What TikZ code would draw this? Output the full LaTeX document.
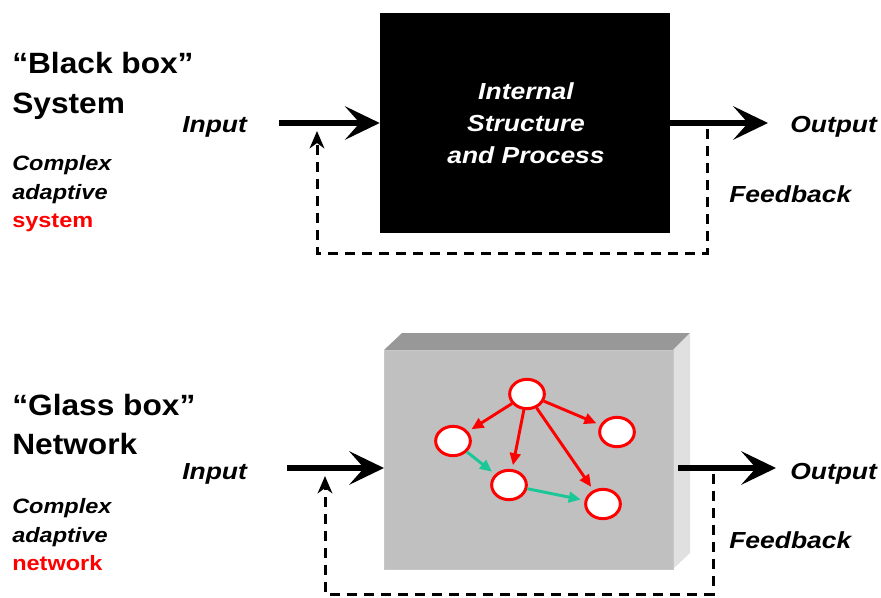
\documentclass[tikz,border=0pt]{standalone}
\usepackage{fontspec}
\setmainfont{Liberation Sans}
\usetikzlibrary{arrows.meta,shapes.geometric}

\definecolor{netgreen}{RGB}{25,200,150}
\definecolor{glassfront}{RGB}{192,192,192}
\definecolor{glasstop}{RGB}{152,152,152}
\definecolor{glassside}{RGB}{224,224,224}

% horizontally widened lettering
\newcommand{\hstretchtext}[2]{\scalebox{#1}[1]{#2}}

\begin{document}
\begin{tikzpicture}[x=0.75pt,y=-0.75pt,
  headtxt/.style={anchor=base west, inner sep=0pt,
    font=\fontsize{22}{26}\selectfont\bfseries},
  labeltxt/.style={anchor=base west, inner sep=0pt,
    font=\fontsize{17.4}{20}\selectfont\bfseries\itshape},
  boxtxt/.style={anchor=base, inner sep=0pt, text=white,
    font=\fontsize{17.4}{20}\selectfont\bfseries\itshape},
  smalltxt/.style={anchor=base west, inner sep=0pt,
    font=\fontsize{15.6}{18}\selectfont\bfseries\itshape},
  redtxt/.style={anchor=base west, inner sep=0pt, text=red,
    font=\fontsize{15.6}{18}\selectfont\bfseries},
  flow/.style={line width=4.5pt,
    -{Stealth[length=26pt,width=25pt,inset=11pt]}},
  feedback/.style={line width=2.25pt, dash pattern=on 7.5pt off 5.25pt,
    -{Stealth[length=13pt,width=11pt,inset=4pt]}},
  netnode/.style={ellipse, draw=red, fill=white, line width=2.25pt,
    minimum width=26pt, minimum height=22pt, inner sep=0pt},
  redlink/.style={draw=red, line width=2.2pt,
    -{Triangle[length=9pt,width=8pt]}, shorten >=3pt},
  greenlink/.style={draw=netgreen, line width=2.2pt,
    -{Triangle[length=9pt,width=8pt]}, shorten >=3pt}
]
\useasboundingbox (0,0) rectangle (881,597);

% ---------------- black box system ----------------
\node[headtxt] (bbtitle) at (12,73) {\hstretchtext{1.08}{“Black box”}};
\node[headtxt] (bbsys) at (12,113) {\hstretchtext{1.08}{System}};
\node[smalltxt] (bbc1) at (12,170) {\hstretchtext{1.13}{Complex}};
\node[smalltxt] (bbc2) at (12,199) {\hstretchtext{1.13}{adaptive}};
\node[redtxt] (bbc3) at (12,227) {\hstretchtext{1.13}{system}};

\node[fill=black, minimum width=217.5pt, minimum height=165pt, inner sep=0pt]
  (bb) at (525,123) {};
\node[boxtxt] (bbt1) at (526,99) {\hstretchtext{1.14}{Internal}};
\node[boxtxt] (bbt2) at (526,131) {\hstretchtext{1.14}{Structure}};
\node[boxtxt] (bbt3) at (526,163) {\hstretchtext{1.14}{and Process}};

\node[labeltxt] (bbin) at (182,132) {\hstretchtext{1.14}{Input}};
\node[labeltxt] (bbout) at (790,132) {\hstretchtext{1.14}{Output}};
\node[labeltxt] (bbfb) at (729,202) {\hstretchtext{1.14}{Feedback}};

\coordinate (bbinstart) at (279,123);
\coordinate (bboutend) at (768,123);
\coordinate (bbfbstart) at (707,129);
\coordinate (bbfbend) at (317,131);

\draw[flow] (bbinstart) -- (bb.west);
\draw[flow] (bb.east) -- (bboutend);
\draw[feedback] (bbfbstart) |- (317,253) -- (bbfbend);

% ---------------- glass box network ----------------
\node[headtxt] (gbtitle) at (12,415) {\hstretchtext{1.08}{“Glass box”}};
\node[headtxt] (gbnet) at (12,454) {\hstretchtext{1.08}{Network}};
\node[smalltxt] (gbc1) at (12,513) {\hstretchtext{1.13}{Complex}};
\node[smalltxt] (gbc2) at (12,542) {\hstretchtext{1.13}{adaptive}};
\node[redtxt] (gbc3) at (12,570) {\hstretchtext{1.13}{network}};

% box faces: top, side, front
\fill[glasstop] (384,350) -- (402,333) -- (690,333) -- (673,350) -- cycle;
\fill[glassside] (673,350) -- (690,333) -- (690,553) -- (673,569) -- cycle;
\node[fill=glassfront, draw=black!22, line width=0.5pt,
  minimum width=216.75pt, minimum height=164.25pt, inner sep=0pt]
  (gb) at (528.5,459.5) {};

\node[netnode] (n1) at (527,394) {};
\node[netnode] (n2) at (453,441) {};
\node[netnode] (n3) at (617,432) {};
\node[netnode] (n4) at (509,485) {};
\node[netnode] (n5) at (603,504) {};

\draw[redlink] (n1) -- (n2);
\draw[redlink] (n1) -- (n4);
\draw[redlink] (n1) -- (n5);
\draw[redlink] (n1) -- (n3);
\draw[greenlink] (n2) -- (n4);
\draw[greenlink] (n4) -- (n5);

\node[labeltxt] (gbin) at (182,479) {\hstretchtext{1.14}{Input}};
\node[labeltxt] (gbout) at (790,479) {\hstretchtext{1.14}{Output}};
\node[labeltxt] (gbfb) at (729,548) {\hstretchtext{1.14}{Feedback}};

\coordinate (gbinstart) at (287,468);
\coordinate (gbinend) at (384,468);
\coordinate (gboutstart) at (678,468);
\coordinate (gboutend) at (776,468);
\coordinate (gbfbstart) at (713,474);
\coordinate (gbfbend) at (325,476);

\draw[flow] (gbinstart) -- (gbinend);
\draw[flow] (gboutstart) -- (gboutend);
\draw[feedback] (gbfbstart) |- (325,594) -- (gbfbend);
\end{tikzpicture}
\end{document}
